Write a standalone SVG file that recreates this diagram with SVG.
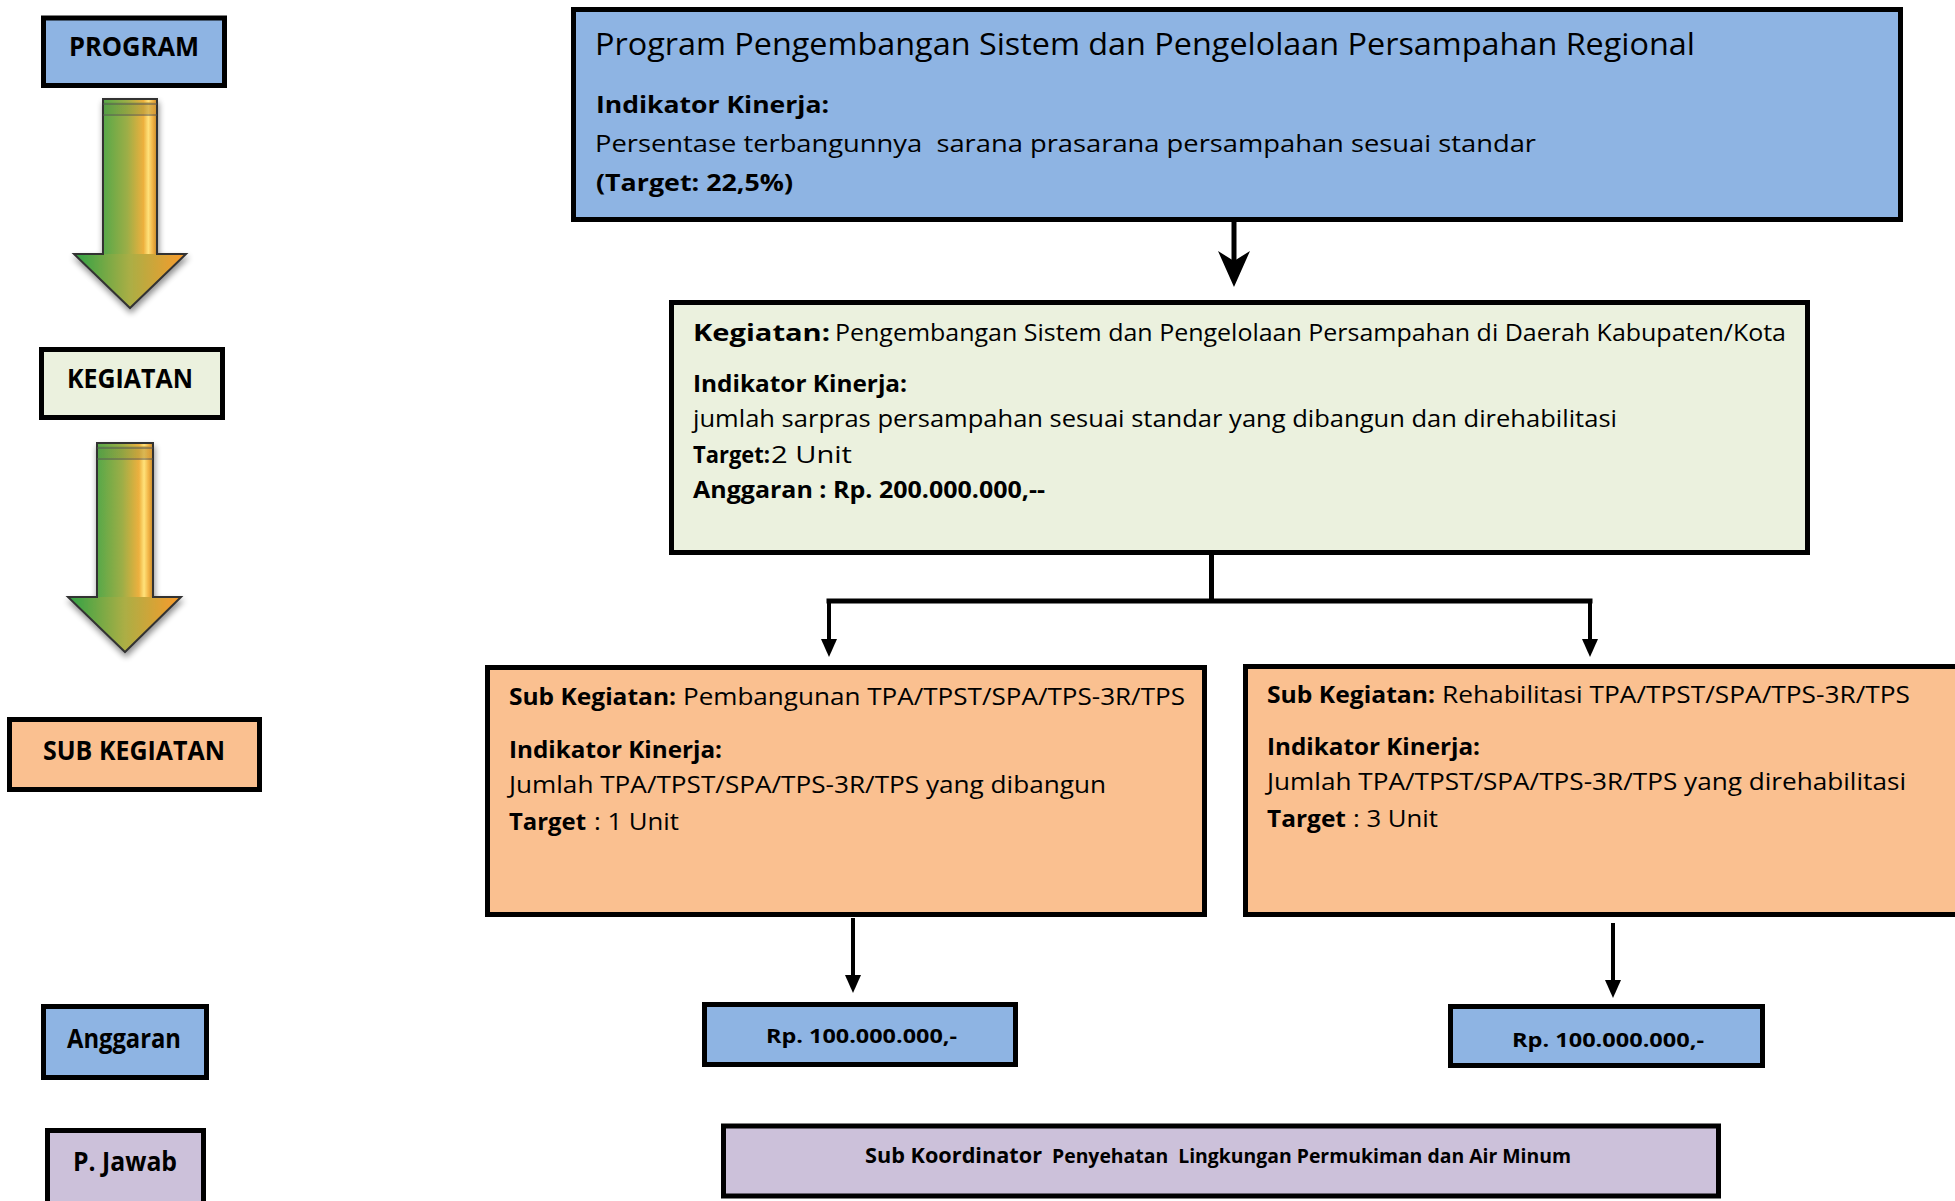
<svg xmlns="http://www.w3.org/2000/svg" width="1955" height="1201" viewBox="0 0 1955 1201">
<style>
text{font-family:"Open Sans","Liberation Sans",sans-serif;fill:#000;}
.b{font-weight:bold;}
.box{stroke:#000;stroke-width:5;}
.blue{fill:#8EB4E3;}
.green{fill:#EBF1DE;}
.orange{fill:#FAC090;}
.purple{fill:#CCC1DA;}
.lbl{font-size:26px;font-weight:bold;}
.t23{font-size:23px;}
.t24{font-size:24px;}
.conn{stroke:#000;fill:none;}
</style>
<defs>
<linearGradient id="shaftG" x1="0" y1="0" x2="1" y2="0">
<stop offset="0" stop-color="#56A848"/>
<stop offset="0.45" stop-color="#9DAE46"/>
<stop offset="0.75" stop-color="#EDB03E"/>
<stop offset="0.84" stop-color="#FFE27A"/>
<stop offset="0.92" stop-color="#F2B445"/>
<stop offset="1" stop-color="#C98A2A"/>
</linearGradient>
<linearGradient id="headG" x1="0" y1="0" x2="1" y2="0">
<stop offset="0" stop-color="#2EA245"/>
<stop offset="0.5" stop-color="#ABAE45"/>
<stop offset="1" stop-color="#FB9A2A"/>
</linearGradient>
<linearGradient id="capG" x1="0" y1="0" x2="1" y2="0">
<stop offset="0" stop-color="#4E9A44"/>
<stop offset="0.5" stop-color="#8F9E40"/>
<stop offset="1" stop-color="#D89A38"/>
</linearGradient>
<filter id="sh" x="-30%" y="-10%" width="160%" height="130%">
<feGaussianBlur in="SourceAlpha" stdDeviation="3"/>
<feOffset dx="1" dy="4" result="o"/>
<feComponentTransfer><feFuncA type="linear" slope="0.45"/></feComponentTransfer>
<feMerge><feMergeNode/><feMergeNode in="SourceGraphic"/></feMerge>
</filter>
<marker id="tri" markerUnits="userSpaceOnUse" markerWidth="18" markerHeight="16" refX="2" refY="8" orient="auto" viewBox="0 0 18 16">
<path d="M0,0 L18,8 L0,16 Z" fill="#000"/>
</marker>
<marker id="stealth" markerUnits="userSpaceOnUse" markerWidth="36" markerHeight="32" refX="10" refY="16" orient="auto" viewBox="0 0 36 32">
<path d="M0,0 L36,16 L0,32 L10,16 Z" fill="#000"/>
</marker>
</defs>

<!-- left gradient arrows -->
<g id="flow-arrow-1" filter="url(#sh)">
<rect x="103" y="99" width="54" height="156" fill="url(#shaftG)"/>
<rect x="103" y="102" width="54" height="12" fill="url(#capG)" opacity="0.6"/>
<path d="M74,254 H186 L130,308 Z" fill="url(#headG)"/>
<path d="M103,99 H157 V254 H186 L130,308 L74,254 H103 Z" fill="none" stroke="#333" stroke-width="2"/>
<line x1="103" y1="104" x2="157" y2="104" stroke="#555" stroke-width="1"/>
<line x1="103" y1="115" x2="157" y2="115" stroke="#555" stroke-width="1"/>
</g>
<g id="flow-arrow-2" filter="url(#sh)">
<rect x="97" y="443" width="56" height="155" fill="url(#shaftG)"/>
<rect x="97" y="446" width="56" height="12" fill="url(#capG)" opacity="0.6"/>
<path d="M68,597 H181 L125,652 Z" fill="url(#headG)"/>
<path d="M97,443 H153 V597 H181 L125,652 L68,597 H97 Z" fill="none" stroke="#333" stroke-width="2"/>
<line x1="97" y1="448" x2="153" y2="448" stroke="#555" stroke-width="1"/>
<line x1="97" y1="459" x2="153" y2="459" stroke="#555" stroke-width="1"/>
</g>

<!-- left labels -->
<g id="label-program">
<rect class="box blue" x="43.5" y="18" width="181" height="67.5"/>
<text class="lbl" x="69" y="56" textLength="130" lengthAdjust="spacingAndGlyphs">PROGRAM</text>
</g>
<g id="label-kegiatan">
<rect class="box green" x="41.5" y="349.5" width="181" height="68"/>
<text class="lbl" x="67" y="388" textLength="126" lengthAdjust="spacingAndGlyphs">KEGIATAN</text>
</g>
<g id="label-subkegiatan">
<rect class="box orange" x="9.5" y="719.5" width="250" height="70"/>
<text class="lbl" x="43" y="760" textLength="182" lengthAdjust="spacingAndGlyphs">SUB KEGIATAN</text>
</g>
<g id="label-anggaran">
<rect class="box blue" x="43.5" y="1006.5" width="163" height="71"/>
<text class="lbl" x="67" y="1048" textLength="114" lengthAdjust="spacingAndGlyphs">Anggaran</text>
</g>
<g id="label-pjawab">
<rect class="box purple" x="47.5" y="1130.5" width="156" height="80"/>
<text class="lbl" x="73" y="1171" textLength="104" lengthAdjust="spacingAndGlyphs">P. Jawab</text>
</g>

<!-- connectors -->
<g id="connectors">
<line class="conn" x1="1234" y1="222" x2="1234" y2="261" stroke-width="5" marker-end="url(#stealth)"/>
<line class="conn" x1="1211.5" y1="555" x2="1211.5" y2="601" stroke-width="5"/>
<line class="conn" x1="826.5" y1="601" x2="1592.5" y2="601" stroke-width="5"/>
<line class="conn" x1="829" y1="599" x2="829" y2="641" stroke-width="4" marker-end="url(#tri)"/>
<line class="conn" x1="1590" y1="599" x2="1590" y2="641" stroke-width="4" marker-end="url(#tri)"/>
<line class="conn" x1="853" y1="918" x2="853" y2="977" stroke-width="4" marker-end="url(#tri)"/>
<line class="conn" x1="1613" y1="923" x2="1613" y2="982" stroke-width="4" marker-end="url(#tri)"/>
</g>

<!-- program box -->
<g id="node-program">
<rect class="box blue" x="573.5" y="9.5" width="1327" height="210"/>
<text x="595" y="55" font-size="31" textLength="1100" lengthAdjust="spacingAndGlyphs">Program Pengembangan Sistem dan Pengelolaan Persampahan Regional</text>
<text class="b t24" x="596" y="113" textLength="233" lengthAdjust="spacingAndGlyphs">Indikator Kinerja:</text>
<text class="t23" x="595" y="152" textLength="941" lengthAdjust="spacingAndGlyphs" xml:space="preserve">Persentase terbangunnya  sarana prasarana persampahan sesuai standar</text>
<text class="b t23" x="596" y="191" textLength="197" lengthAdjust="spacingAndGlyphs">(Target: 22,5%)</text>
</g>

<!-- kegiatan box -->
<g id="node-kegiatan">
<rect class="box green" x="671.5" y="302.5" width="1136" height="250"/>
<text class="b t23" x="693" y="341" textLength="137" lengthAdjust="spacingAndGlyphs">Kegiatan:</text>
<text class="t23" x="835" y="341" textLength="951" lengthAdjust="spacingAndGlyphs">Pengembangan Sistem dan Pengelolaan Persampahan di Daerah Kabupaten/Kota</text>
<text class="b t23" x="693" y="392" textLength="214" lengthAdjust="spacingAndGlyphs">Indikator Kinerja:</text>
<text class="t23" x="693" y="427" textLength="924" lengthAdjust="spacingAndGlyphs">jumlah sarpras persampahan sesuai standar yang dibangun dan direhabilitasi</text>
<text class="b t23" x="693" y="463" textLength="77" lengthAdjust="spacingAndGlyphs">Target:</text>
<text class="t23" x="771" y="463" textLength="81" lengthAdjust="spacingAndGlyphs">2 Unit</text>
<text class="b t23" x="693" y="498" textLength="352" lengthAdjust="spacingAndGlyphs">Anggaran  : Rp. 200.000.000,--</text>
</g>

<!-- sub kegiatan 1 -->
<g id="node-subkegiatan-1">
<rect class="box orange" x="487.5" y="667.5" width="717" height="247"/>
<text class="b t24" x="509" y="705" textLength="167" lengthAdjust="spacingAndGlyphs">Sub Kegiatan:</text>
<text class="t24" x="683" y="705" textLength="502" lengthAdjust="spacingAndGlyphs">Pembangunan TPA/TPST/SPA/TPS-3R/TPS</text>
<text class="b t24" x="509" y="758" textLength="213" lengthAdjust="spacingAndGlyphs">Indikator Kinerja:</text>
<text class="t24" x="509" y="793" textLength="597" lengthAdjust="spacingAndGlyphs">Jumlah TPA/TPST/SPA/TPS-3R/TPS yang dibangun</text>
<text class="b t24" x="509" y="830" textLength="77" lengthAdjust="spacingAndGlyphs">Target</text>
<text class="t24" x="594" y="830" textLength="85" lengthAdjust="spacingAndGlyphs">: 1 Unit</text>
</g>

<!-- sub kegiatan 2 -->
<g id="node-subkegiatan-2">
<rect class="box orange" x="1245.5" y="666.5" width="730" height="248"/>
<text class="b t24" x="1267" y="703" textLength="168" lengthAdjust="spacingAndGlyphs">Sub Kegiatan:</text>
<text class="t24" x="1442" y="703" textLength="468" lengthAdjust="spacingAndGlyphs">Rehabilitasi TPA/TPST/SPA/TPS-3R/TPS</text>
<text class="b t24" x="1267" y="755" textLength="213" lengthAdjust="spacingAndGlyphs">Indikator Kinerja:</text>
<text class="t24" x="1267" y="790" textLength="639" lengthAdjust="spacingAndGlyphs">Jumlah TPA/TPST/SPA/TPS-3R/TPS yang direhabilitasi</text>
<text class="b t24" x="1267" y="827" textLength="79" lengthAdjust="spacingAndGlyphs">Target</text>
<text class="t24" x="1353" y="827" textLength="85" lengthAdjust="spacingAndGlyphs">: 3 Unit</text>
</g>

<!-- anggaran boxes -->
<g id="node-anggaran-1">
<rect class="box blue" x="704.5" y="1004.5" width="311" height="60"/>
<text class="b" font-size="19" x="766" y="1043" textLength="191" lengthAdjust="spacingAndGlyphs">Rp. 100.000.000,-</text>
</g>
<g id="node-anggaran-2">
<rect class="box blue" x="1450.5" y="1006.5" width="312" height="59"/>
<text class="b" font-size="19" x="1512" y="1047" textLength="192" lengthAdjust="spacingAndGlyphs">Rp. 100.000.000,-</text>
</g>

<!-- penanggung jawab -->
<g id="node-pjawab">
<rect class="box purple" x="723.5" y="1126" width="995" height="70"/>
<text class="b" font-size="21" x="865" y="1163" textLength="177" lengthAdjust="spacingAndGlyphs">Sub Koordinator</text>
<text class="b" font-size="19" x="1052" y="1163" textLength="519" lengthAdjust="spacingAndGlyphs" xml:space="preserve">Penyehatan  Lingkungan Permukiman dan Air Minum</text>
</g>
</svg>
